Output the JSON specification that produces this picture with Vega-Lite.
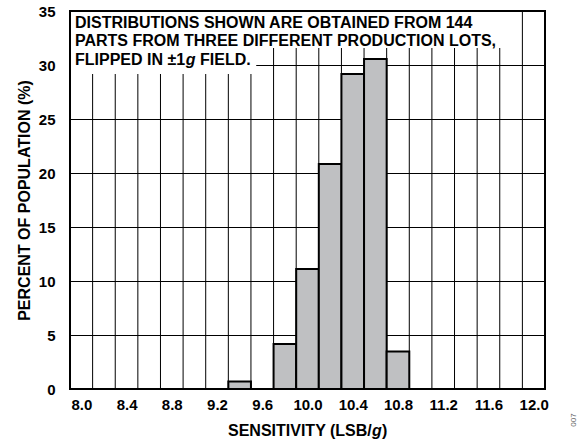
{
  "$schema": "https://vega.github.io/schema/vega-lite/v6.json",
  "width": 475,
  "height": 378,
  "autosize": {"type": "none"},
  "padding": {"left": 70, "top": 11, "right": 42, "bottom": 57},
  "background": "white",
  "config": {
    "view": {"stroke": "black", "strokeWidth": 2},
    "font": "Liberation Sans",
    "axis": {
      "labelFont": "Liberation Sans",
      "labelFontWeight": "bold",
      "labelColor": "black",
      "titleFont": "Liberation Sans",
      "titleFontWeight": "bold",
      "titleColor": "black",
      "domain": false,
      "ticks": false,
      "tickSize": 0
    }
  },
  "datasets": {
    "bins": [
      {"lo": 9.3, "hi": 9.5, "pct": 0.69},
      {"lo": 9.7, "hi": 9.9, "pct": 4.17},
      {"lo": 9.9, "hi": 10.1, "pct": 11.11},
      {"lo": 10.1, "hi": 10.3, "pct": 20.83},
      {"lo": 10.3, "hi": 10.5, "pct": 29.17},
      {"lo": 10.5, "hi": 10.7, "pct": 30.56},
      {"lo": 10.7, "hi": 10.9, "pct": 3.47}
    ],
    "edges": [
      {"edge": 8.1}, {"edge": 8.3}, {"edge": 8.5}, {"edge": 8.7}, {"edge": 8.9},
      {"edge": 9.1}, {"edge": 9.3}, {"edge": 9.5}, {"edge": 9.7}, {"edge": 9.9},
      {"edge": 10.1}, {"edge": 10.3}, {"edge": 10.5}, {"edge": 10.7}, {"edge": 10.9},
      {"edge": 11.1}, {"edge": 11.3}, {"edge": 11.5}, {"edge": 11.7}, {"edge": 11.9}
    ]
  },
  "layer": [
    {
      "data": {"name": "edges"},
      "mark": {"type": "rule", "color": "black", "strokeWidth": 1},
      "encoding": {
        "x": {
          "field": "edge",
          "type": "quantitative",
          "scale": {"domain": [7.9, 12.1], "nice": false, "zero": false},
          "axis": {
            "values": [8.0, 8.4, 8.8, 9.2, 9.6, 10.0, 10.4, 10.8, 11.2, 11.6, 12.0],
            "format": ".1f",
            "grid": false,
            "labelFontSize": 15,
            "labelPadding": 20,
            "labelBaseline": "alphabetic",
            "title": null
          }
        }
      }
    },
    {
      "data": {"name": "bins"},
      "mark": {"type": "rect", "fill": "white", "xOffset": 1, "yOffset": 1},
      "encoding": {
        "x": {"datum": 7.9, "type": "quantitative"},
        "x2": {"datum": 11.79},
        "y": {"datum": 35, "type": "quantitative"},
        "y2": {"datum": 31.57}
      }
    },
    {
      "data": {"name": "bins"},
      "mark": {"type": "rect", "fill": "white", "xOffset": 1},
      "encoding": {
        "x": {"datum": 7.9, "type": "quantitative"},
        "x2": {"datum": 9.545},
        "y": {"datum": 31.6, "type": "quantitative"},
        "y2": {"datum": 29.17}
      }
    },
    {
      "data": {"name": "bins"},
      "mark": {"type": "rect", "fill": "#bfc0c2", "stroke": "black", "strokeWidth": 2},
      "encoding": {
        "x": {"field": "lo", "type": "quantitative"},
        "x2": {"field": "hi"},
        "y": {
          "field": "pct",
          "type": "quantitative",
          "scale": {"domain": [0, 35], "nice": false},
          "axis": {
            "values": [0, 5, 10, 15, 20, 25, 30, 35],
            "grid": true,
            "gridColor": "black",
            "gridWidth": 1,
            "gridOpacity": 1,
            "labelFontSize": 15,
            "labelPadding": 15,
            "title": "PERCENT OF POPULATION (%)",
            "titleFontSize": 16,
            "titleX": -46,
            "titleY": 189,
            "titleAngle": 270,
            "titleAlign": "center",
            "titleBaseline": "middle"
          }
        },
        "y2": {"datum": 0}
      }
    },
    {
      "data": {"values": [{}]},
      "mark": {
        "type": "text",
        "text": ["DISTRIBUTIONS SHOWN ARE OBTAINED FROM 144", "PARTS FROM THREE DIFFERENT PRODUCTION LOTS,"],
        "font": "Liberation Sans",
        "fontWeight": "bold",
        "fontSize": 16,
        "lineHeight": 18.5,
        "align": "left",
        "baseline": "alphabetic",
        "color": "black",
        "dx": 5
      },
      "encoding": {
        "x": {"datum": 7.9, "type": "quantitative"},
        "y": {"datum": 33.43, "type": "quantitative"}
      }
    },
    {
      "data": {"values": [{}]},
      "mark": {
        "type": "text",
        "text": "FLIPPED IN ±1",
        "font": "Liberation Sans",
        "fontWeight": "bold",
        "fontSize": 16,
        "align": "left",
        "baseline": "alphabetic",
        "color": "black",
        "dx": 5
      },
      "encoding": {
        "x": {"datum": 7.9, "type": "quantitative"},
        "y": {"datum": 30, "type": "quantitative"}
      }
    },
    {
      "data": {"values": [{}]},
      "mark": {
        "type": "text",
        "text": "g",
        "font": "Liberation Sans",
        "fontWeight": "bold",
        "fontStyle": "italic",
        "fontSize": 16,
        "align": "left",
        "baseline": "alphabetic",
        "color": "black",
        "dx": 115.7
      },
      "encoding": {
        "x": {"datum": 7.9, "type": "quantitative"},
        "y": {"datum": 30, "type": "quantitative"}
      }
    },
    {
      "data": {"values": [{}]},
      "mark": {
        "type": "text",
        "text": "FIELD.",
        "font": "Liberation Sans",
        "fontWeight": "bold",
        "fontSize": 16,
        "align": "left",
        "baseline": "alphabetic",
        "color": "black",
        "dx": 130
      },
      "encoding": {
        "x": {"datum": 7.9, "type": "quantitative"},
        "y": {"datum": 30, "type": "quantitative"}
      }
    },
    {
      "data": {"values": [{}]},
      "mark": {
        "type": "text",
        "text": "SENSITIVITY (LSB/",
        "font": "Liberation Sans",
        "fontWeight": "bold",
        "fontSize": 16,
        "align": "left",
        "baseline": "alphabetic",
        "color": "black",
        "dx": 158
      },
      "encoding": {
        "x": {"datum": 7.9, "type": "quantitative"},
        "y": {"datum": -4.35, "type": "quantitative"}
      }
    },
    {
      "data": {"values": [{}]},
      "mark": {
        "type": "text",
        "text": "g",
        "font": "Liberation Sans",
        "fontWeight": "bold",
        "fontStyle": "italic",
        "fontSize": 16,
        "align": "left",
        "baseline": "alphabetic",
        "color": "black",
        "dx": 302
      },
      "encoding": {
        "x": {"datum": 7.9, "type": "quantitative"},
        "y": {"datum": -4.35, "type": "quantitative"}
      }
    },
    {
      "data": {"values": [{}]},
      "mark": {
        "type": "text",
        "text": ")",
        "font": "Liberation Sans",
        "fontWeight": "bold",
        "fontSize": 16,
        "align": "left",
        "baseline": "alphabetic",
        "color": "black",
        "dx": 312
      },
      "encoding": {
        "x": {"datum": 7.9, "type": "quantitative"},
        "y": {"datum": -4.35, "type": "quantitative"}
      }
    },
    {
      "data": {"values": [{}]},
      "mark": {
        "type": "text",
        "text": "007",
        "font": "Liberation Sans",
        "fontSize": 8,
        "angle": 270,
        "align": "center",
        "baseline": "middle",
        "color": "#666666"
      },
      "encoding": {
        "x": {"datum": 12.356, "type": "quantitative"},
        "y": {"datum": -2.87, "type": "quantitative"}
      }
    }
  ]
}
